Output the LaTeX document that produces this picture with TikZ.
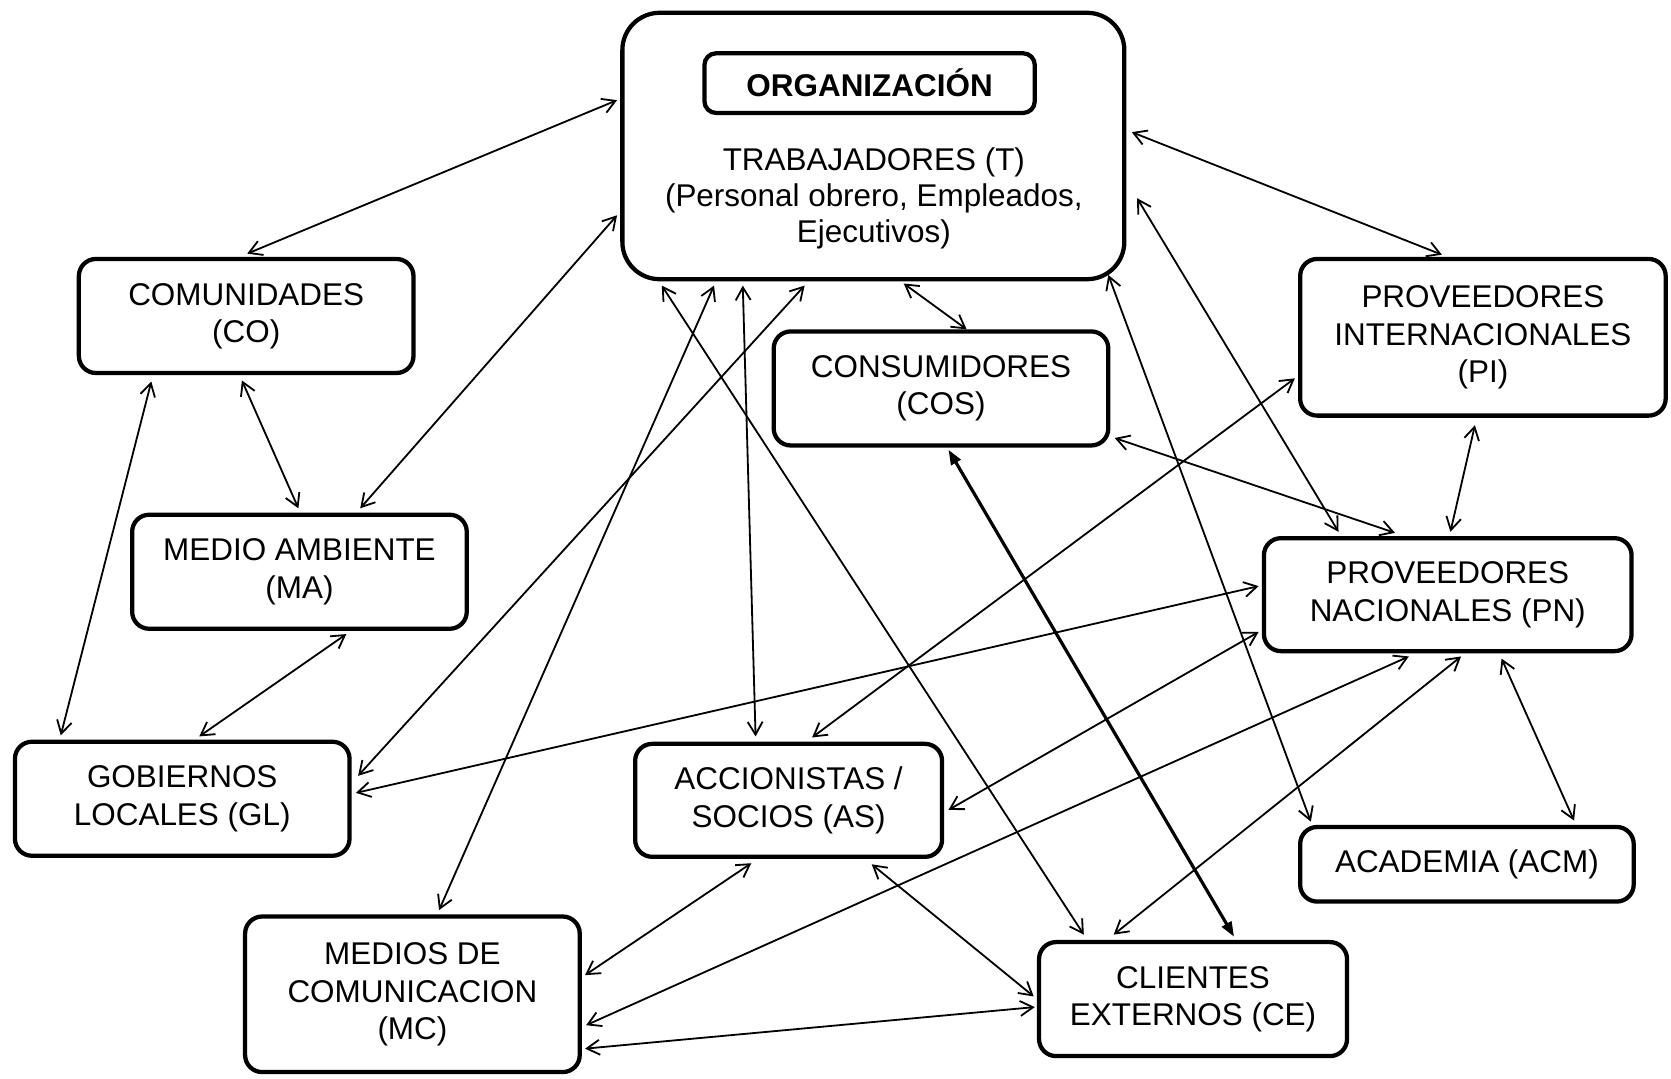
\documentclass[tikz,border=0pt]{standalone}
\usepackage{fontspec}
\setmainfont{Liberation Sans}
\usetikzlibrary{arrows.meta}

\tikzset{
    caja/.style={draw, line width=4pt, rounded corners=16pt, align=center,
        inner sep=0pt, font=\fontsize{29.5}{35}\selectfont},
    enlace/.style={<->, line width=1.7pt},
    fuerte/.style={{Triangle[length=14pt,width=10pt]}-{Triangle[length=14pt,width=10pt]}, line width=3pt},
}

\begin{document}
\begin{tikzpicture}[x=1pt, y=-1pt, >={Straight Barb[length=12pt,width=14pt]}]

                \useasboundingbox (0,0) rectangle (1568,1012);

                %----- ORGANIZACION -----
                \node[caja, rounded corners=35pt, minimum width=471, minimum height=250] (org) at (819.5,137) {};
                \node[caja, rounded corners=11pt, minimum width=310, minimum height=56,
                      font=\fontsize{29.5}{35}\selectfont\bfseries] (tit) at (816,78) {ORGANIZACIÓN};
                \node[align=center, inner sep=0pt, font=\fontsize{29.5}{34}\selectfont] (trab) at (820,186)
                    {TRABAJADORES (T)\\(Personal obrero, Empleados,\\Ejecutivos)};

                %----- GRUPOS DE INTERES -----
                \node[caja, minimum width=314, minimum height=107] (com) at (231,296.5) {COMUNIDADES\\(CO)};
                \node[caja, minimum width=314, minimum height=107] (cons) at (883,364.5) {CONSUMIDORES\\(COS)};
                \node[caja, minimum width=343, minimum height=147] (provi) at (1391.5,316.5) {PROVEEDORES\\INTERNACIONALES\\(PI)};
                \node[caja, minimum width=314, minimum height=107] (medio) at (281,536.5) {MEDIO AMBIENTE\\(MA)};
                \node[caja, minimum width=345, minimum height=106] (provn) at (1358.5,558) {PROVEEDORES\\NACIONALES (PN)};
                \node[caja, minimum width=314, minimum height=107] (gob) at (171,749.5) {GOBIERNOS\\LOCALES (GL)};
                \node[caja, minimum width=288, minimum height=106] (acc) at (740,751) {ACCIONISTAS /\\SOCIOS (AS)};
                \node[caja, minimum width=313, minimum height=70] (acad) at (1376.5,811) {ACADEMIA (ACM)};
                \node[caja, minimum width=314, minimum height=146] (mcom) at (387,933) {MEDIOS DE\\COMUNICACION\\(MC)};
                \node[caja, minimum width=289, minimum height=107] (cli) at (1119.5,937.5) {CLIENTES\\EXTERNOS (CE)};

                %----- ENLACES DESDE LA ORGANIZACION -----
                \draw[enlace] ([shift={(-3,84)}]org.north west) -- ([shift={(160,-3)}]com.north west);
                \draw[enlace] ([shift={(-3,192)}]org.north west) -- ([shift={(216,-4)}]medio.north west);
                \draw[enlace] ([shift={(173,4)}]org.south west) -- ([shift={(6,34)}]gob.north east);
                \draw[enlace] ([shift={(88,4)}]org.south west) -- ([shift={(184,-4)}]mcom.north west);
                \draw[enlace] ([shift={(115,4)}]org.south west) -- ([shift={(115,-5)}]acc.north west);
                \draw[enlace] ([shift={(39,4)}]org.south west) -- ([shift={(44,-5)}]cli.north west);
                \draw[enlace] ([shift={(266,2)}]org.south west) -- ([shift={(183,0)}]cons.north west);
                \draw[enlace] ([shift={(-17,-6)}]org.south east) -- ([shift={(12,-3)}]acad.north west);
                \draw[enlace] ([shift={(10,176)}]org.north east) -- ([shift={(72,-4)}]provn.north west);
                \draw[enlace] ([shift={(5,114)}]org.north east) -- ([shift={(135,-2)}]provi.north west);

                %----- CONSUMIDORES Y PROVEEDORES -----
                \draw[fuerte] ([shift={(166,2)}]cons.south west) -- ([shift={(185,-3)}]cli.north west);
                \draw[enlace] ([shift={(4,-9)}]cons.south east) -- ([shift={(125,-3)}]provn.north west);
                \draw[enlace] ([shift={(-3,-37)}]provi.south west) -- ([shift={(168,-4)}]acc.north west);
                \draw[enlace] ([shift={(166,7)}]provi.south west) -- ([shift={(177,-4)}]provn.north west);
                \draw[enlace] ([shift={(-3,47)}]provn.north west) -- ([shift={(4,50)}]gob.north east);
                \draw[enlace] ([shift={(-3,-20)}]provn.south west) -- ([shift={(4,-46)}]acc.south east);
                \draw[enlace] ([shift={(138,3)}]provn.south west) -- ([shift={(4,-46)}]mcom.south east);
                \draw[enlace] ([shift={(187,3)}]provn.south west) -- ([shift={(72,-5)}]cli.north west);
                \draw[enlace] ([shift={(225,5)}]provn.south west) -- ([shift={(259,-4)}]acad.north west);

                %----- LADO IZQUIERDO -----
                \draw[enlace] ([shift={(155,5)}]com.south west) -- ([shift={(158,-4)}]medio.north west);
                \draw[enlace] ([shift={(70,6)}]com.south west) -- ([shift={(45,-4)}]gob.north west);
                \draw[enlace] ([shift={(203,3)}]medio.south west) -- ([shift={(175,-3)}]gob.north west);

                %----- PARTE INFERIOR -----
                \draw[enlace] ([shift={(111,4)}]acc.south west) -- ([shift={(3,57)}]mcom.north east);
                \draw[enlace] ([shift={(224,5)}]acc.south west) -- ([shift={(-3,53)}]cli.north west);
                \draw[enlace] ([shift={(3,-24)}]mcom.south east) -- ([shift={(-2,63)}]cli.north west);

        \end{tikzpicture}
\end{document}
